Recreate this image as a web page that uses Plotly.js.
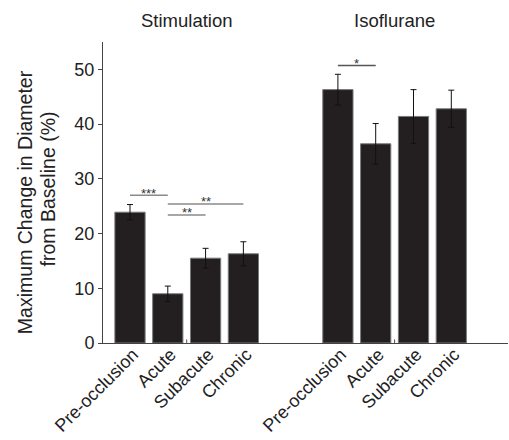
<!DOCTYPE html>
<html>
<head>
<meta charset="utf-8">
<script src="https://cdn.plot.ly/plotly-3.0.1.min.js"></script>
<style>html,body{margin:0;padding:0;background:#fff;}#chart{width:509px;height:440px;}</style>
</head>
<body>
<div id="chart"></div>
<script>
// ---- data ----
const groups = ["Stimulation", "Isoflurane"];
const categories = ["Pre-occlusion", "Acute", "Subacute", "Chronic"];
const stimMeans = [23.9, 9.0, 15.5, 16.3];
const stimErrors = [1.4, 1.4, 1.8, 2.2];
const isoMeans = [46.3, 36.4, 41.4, 42.8];
const isoErrors = [2.8, 3.7, 4.9, 3.4];
// significance brackets
const sigGroup = [0, 0, 0, 1];
const sigFrom = [0, 1, 1, 0];
const sigTo = [1, 3, 2, 1];
const sigLevel = [27.0, 25.4, 23.4, 50.7];
const sigLabel = ["***", "**", "**", "*"];
const yTitleLines = ["Maximum Change in Diameter", "from Baseline (%)"];

// ---- layout helpers ----
const FONT = "Liberation Sans, Arial, sans-serif";
const groupGap = 2.5;
function pos(g, i) { return g * (categories.length + groupGap - 1) + i; }
const allMeans = [stimMeans, isoMeans];
const allErrors = [stimErrors, isoErrors];

const traces = [];
groups.forEach((g, gi) => {
  traces.push({
    type: "bar",
    x: categories.map((c, i) => pos(gi, i)),
    y: allMeans[gi],
    width: 0.8,
    marker: { color: "#231f20", line: { color: "#7a7a7a", width: 1 } },
    error_y: { type: "data", array: allErrors[gi], visible: true, color: "#111", thickness: 1, width: 3 },
    hoverinfo: "y",
    showlegend: false
  });
});

const sigColors = ["#8a8a8a", "#555555"];
const annotations = [];
sigLabel.forEach((lab, k) => {
  const x0 = pos(sigGroup[k], sigFrom[k]);
  const x1 = pos(sigGroup[k], sigTo[k]);
  traces.push({
    type: "scatter", mode: "lines",
    x: [x0, x1], y: [sigLevel[k], sigLevel[k]],
    line: { color: sigColors[sigGroup[k]], width: 1.5 },
    hoverinfo: "skip", showlegend: false
  });
  annotations.push({
    x: (x0 + x1) / 2, y: sigLevel[k], xref: "x", yref: "y",
    text: lab, showarrow: false, yanchor: "middle", yshift: 2,
    font: { family: FONT, size: 13, color: "#333" }
  });
});

const groupCenters = groups.map((g, gi) => (pos(gi, 0) + pos(gi, categories.length - 1)) / 2);
groups.forEach((g, gi) => {
  annotations.push({
    x: groupCenters[gi], y: 1, xref: "x", yref: "paper",
    text: g, showarrow: false, yanchor: "middle", yshift: 22,
    font: { family: FONT, size: 18.5, color: "#222" }
  });
});

// y-axis title (two lines, placed individually)
const yTitleX = [-78, -55];
const yTitleY = [0.468, 0.51];
yTitleLines.forEach((t, k) => {
  annotations.push({
    x: 0, y: yTitleY[k], xref: "paper", yref: "paper", xshift: yTitleX[k],
    text: t, textangle: -90, showarrow: false, xanchor: "center", yanchor: "middle",
    font: { family: FONT, size: 19.5, color: "#222" }
  });
});

const shapes = groupCenters.map(c => ({
  type: "line", xref: "x", yref: "paper", x0: c, x1: c, y0: 0, y1: 0.012,
  line: { color: "#555", width: 1 }
}));

const tickvals = [], ticktext = [];
groups.forEach((g, gi) => categories.forEach((c, i) => { tickvals.push(pos(gi, i)); ticktext.push(c); }));

const layout = {
  width: 509, height: 440,
  margin: { l: 103, r: 1, t: 42, b: 97 },
  paper_bgcolor: "#fff", plot_bgcolor: "#fff",
  font: { family: FONT, color: "#222", size: 18 },
  bargap: 0,
  xaxis: {
    range: [-0.714, 10.0],
    tickvals: tickvals, ticktext: ticktext, tickangle: -45,
    showline: true, linecolor: "#444", linewidth: 1,
    showgrid: false, zeroline: false, ticks: "",
    ticklabelshift: 3, ticklabelstandoff: -7,
    tickfont: { size: 18, color: "#222" }
  },
  yaxis: {
    range: [0, 55],
    tickvals: [0, 10, 20, 30, 40, 50],
    showline: true, linecolor: "#444", linewidth: 1,
    showgrid: false, zeroline: false, ticks: "outside", ticklen: 4, tickcolor: "#444",
    tickfont: { size: 18, color: "#222" }
  },
  annotations: annotations,
  shapes: shapes
};

Plotly.newPlot("chart", traces, layout, { displayModeBar: false, staticPlot: true });
</script>
</body>
</html>
